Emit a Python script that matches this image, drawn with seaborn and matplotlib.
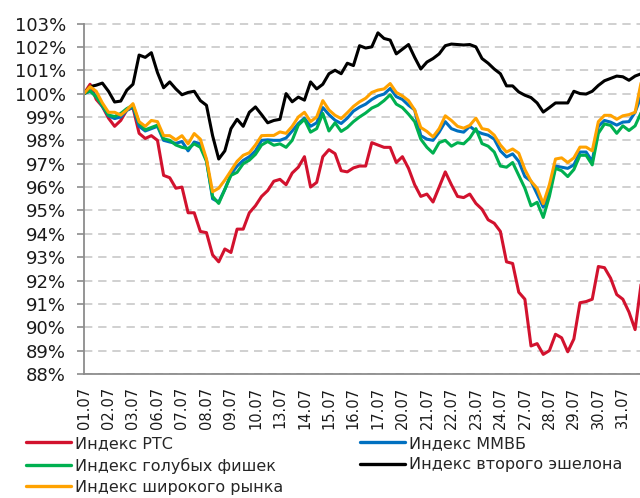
import numpy as np
import pandas as pd
import matplotlib
matplotlib.use("Agg")
import matplotlib.pyplot as plt
import seaborn as sns
from matplotlib.lines import Line2D

# Даты (подписи оси X), по 4 точки на день
dates = ["01.07", "02.07", "03.07", "06.07", "07.07", "08.07", "09.07", "10.07",
         "13.07", "14.07", "15.07", "16.07", "17.07", "20.07", "21.07", "22.07",
         "23.07", "24.07", "27.07", "28.07", "29.07", "30.07", "31.07"]
pts_per_day = 4

rts = [100.0, 100.4, 99.75, 99.45, 98.95, 98.6, 98.85, 99.3, 99.4, 98.3,
       98.08, 98.2, 98.0, 96.5, 96.4, 95.95, 96.0, 94.9, 94.9, 94.1,
       94.05, 93.1, 92.8, 93.35, 93.2, 94.2, 94.2, 94.9, 95.2, 95.6,
       95.85, 96.25, 96.33, 96.1, 96.6, 96.85, 97.3, 96.0, 96.2, 97.3,
       97.6, 97.43, 96.7, 96.65, 96.82, 96.9, 96.9, 97.9, 97.8, 97.7,
       97.7, 97.05, 97.3, 96.8, 96.1, 95.6, 95.7, 95.36, 96.0, 96.65,
       96.1, 95.6, 95.55, 95.7, 95.3, 95.05, 94.6, 94.45, 94.1, 92.8,
       92.73, 91.5, 91.2, 89.2, 89.3, 88.84, 89.0, 89.7, 89.55, 88.95,
       89.5, 91.05, 91.1, 91.2, 92.6, 92.55, 92.1, 91.4, 91.2, 90.65,
       89.9, 91.9]

micex = [100.0, 100.1, 99.9, 99.45, 99.05, 98.93, 99.0, 99.28, 99.43, 98.6,
         98.4, 98.5, 98.6, 98.0, 97.93, 97.87, 97.95, 97.55, 97.93, 97.85,
         97.15, 95.5, 95.36, 95.9, 96.55, 96.9, 97.14, 97.3, 97.55, 98.0,
         98.02, 98.0, 98.0, 98.1, 98.4, 98.72, 98.95, 98.6, 98.75, 99.4,
         99.1, 98.86, 98.72, 98.95, 99.25, 99.42, 99.55, 99.75, 99.9, 99.98,
         100.22, 99.87, 99.75, 99.5, 99.3, 98.2, 98.05, 98.0, 98.35, 98.8,
         98.5, 98.4, 98.35, 98.6, 98.4, 98.29, 98.22, 98.05, 97.55, 97.29,
         97.42, 97.1, 96.45, 96.25, 95.7, 95.14, 95.75, 96.9, 96.85, 96.8,
         96.95, 97.5, 97.5, 97.1, 98.6, 98.85, 98.78, 98.65, 98.78, 98.8,
         99.2, 99.9]

blue_chips = [100.0, 100.12, 99.85, 99.5, 99.08, 99.02, 99.15, 99.36, 99.5, 98.75,
              98.45, 98.55, 98.65, 98.07, 98.0, 97.8, 97.7, 97.65, 97.85, 97.7,
              97.1, 95.6, 95.3, 95.9, 96.5, 96.63, 97.0, 97.15, 97.4, 97.8,
              97.95, 97.79, 97.85, 97.7, 98.0, 98.65, 98.9, 98.35, 98.5, 99.15,
              98.4, 98.75, 98.38, 98.55, 98.8, 99.0, 99.17, 99.38, 99.5, 99.7,
              99.95, 99.55, 99.4, 99.12, 98.8, 98.05, 97.7, 97.45, 97.9, 98.0,
              97.75, 97.9, 97.85, 98.1, 98.5, 97.86, 97.75, 97.5, 96.9, 96.85,
              97.05, 96.5, 95.95, 95.2, 95.35, 94.7, 95.6, 96.8, 96.7, 96.45,
              96.75, 97.36, 97.36, 96.95, 98.3, 98.7, 98.64, 98.3, 98.62, 98.42,
              98.62, 99.2]

second_tier = [100.0, 100.3, 100.36, 100.45, 100.1, 99.64, 99.68, 100.15, 100.4, 101.65,
               101.55, 101.75, 100.9, 100.25, 100.5, 100.2, 99.95, 100.05, 100.1, 99.7,
               99.5, 98.2, 97.2, 97.55, 98.5, 98.9, 98.6, 99.2, 99.43, 99.1,
               98.75, 98.85, 98.9, 100.0, 99.65, 99.85, 99.72, 100.5, 100.2, 100.4,
               100.85, 101.0, 100.85, 101.3, 101.2, 102.05, 101.95, 102.0, 102.6, 102.36,
               102.29, 101.7, 101.9, 102.1, 101.55, 101.05, 101.35, 101.5, 101.7, 102.05,
               102.12, 102.1, 102.08, 102.1, 102.0, 101.5, 101.3, 101.05, 100.85, 100.33,
               100.33, 100.07, 99.93, 99.83, 99.6, 99.21, 99.4, 99.6, 99.6, 99.6,
               100.1, 100.0, 99.98, 100.1, 100.35, 100.55, 100.65, 100.75, 100.72, 100.57,
               100.75, 100.85]

broad = [100.0, 100.3, 100.1, 99.6, 99.2, 99.2, 99.08, 99.3, 99.57, 98.8,
         98.6, 98.85, 98.8, 98.2, 98.2, 98.02, 98.2, 97.85, 98.29, 98.05,
         97.2, 95.8, 95.95, 96.3, 96.7, 97.1, 97.36, 97.47, 97.8, 98.2,
         98.21, 98.21, 98.36, 98.3, 98.6, 99.0, 99.2, 98.8, 99.0, 99.7,
         99.3, 99.07, 98.93, 99.18, 99.45, 99.65, 99.8, 100.05, 100.15, 100.2,
         100.43, 100.05, 99.9, 99.7, 99.3, 98.55, 98.38, 98.15, 98.5, 99.05,
         98.85, 98.6, 98.52, 98.64, 98.95, 98.5, 98.45, 98.22, 97.8, 97.5,
         97.63, 97.45, 96.75, 96.25, 95.95, 95.29, 96.1, 97.2, 97.25, 97.05,
         97.25, 97.71, 97.71, 97.55, 98.8, 99.07, 99.07, 98.9, 99.05, 99.1,
         99.2, 100.5]

labels = ["Индекс РТС", "Индекс ММВБ", "Индекс голубых фишек",
          "Индекс второго эшелона", "Индекс широкого рынка"]
colors = ["#D2122E", "#0070C0", "#00B050", "#000000", "#FFA200"]
y_ticks = list(range(88, 104))

series = [rts, micex, blue_chips, second_tier, broad]
x = np.arange(len(rts))

sns.set_style("white")
plt.rcParams["font.family"] = ["DejaVu Sans"]

fig = plt.figure(figsize=(6.4, 4.98), dpi=100)
ax = fig.add_axes([84 / 640, 1 - 374 / 498, 1 - 84 / 640, (374 - 23.5) / 498])

# порядок отрисовки: красная, синяя, зелёная, чёрная, оранжевая сверху
for vals, lab, col in zip(series, labels, colors):
    sns.lineplot(x=x, y=vals, ax=ax, color=col, linewidth=2.2, label=lab,
                 legend=False)

ax.set_xlim(0, 90.8)
ax.set_ylim(88, 103)
ax.set_yticks(y_ticks)
ax.set_yticklabels([f"{v}%" for v in y_ticks])
ax.set_xticks(np.arange(len(dates)) * pts_per_day)
ax.set_xticklabels(dates, rotation=90)
ax.set_xlabel("")
ax.set_ylabel("")

ax.yaxis.grid(True, color="#C8C8C8", linestyle=(0, (5, 3.5)), linewidth=1.2)
ax.xaxis.grid(False)
ax.set_axisbelow(True)
for side in ["top", "right"]:
    ax.spines[side].set_visible(False)
for side in ["left", "bottom"]:
    ax.spines[side].set_color("#8C8C8C")
    ax.spines[side].set_linewidth(1.3)

ax.tick_params(axis="y", left=True, length=5, width=1.2, color="#8C8C8C",
               pad=8, labelsize=13, labelcolor="#1A1A1A")
ax.tick_params(axis="x", bottom=False, length=0, pad=9, labelsize=10.5,
               labelcolor="#1A1A1A")

# легенда в две колонки под графиком
handles = [Line2D([], [], color=c, linewidth=2.4) for c in colors]
leg_kw = dict(frameon=False, fontsize=11.5, handlelength=2.8, handletextpad=0.25,
              labelspacing=0.4, borderpad=0, borderaxespad=0, loc="upper left")
left_idx = [0, 2, 4]
right_idx = [1, 3]
leg1 = fig.legend([handles[i] for i in left_idx], [labels[i] for i in left_idx],
                  bbox_to_anchor=(26 / 640, 1 - 436 / 498), **leg_kw)
leg2 = fig.legend([handles[i] for i in right_idx], [labels[i] for i in right_idx],
                  bbox_to_anchor=(360 / 640, 1 - 436 / 498), **leg_kw)

fig.savefig("out.png", dpi=100)
